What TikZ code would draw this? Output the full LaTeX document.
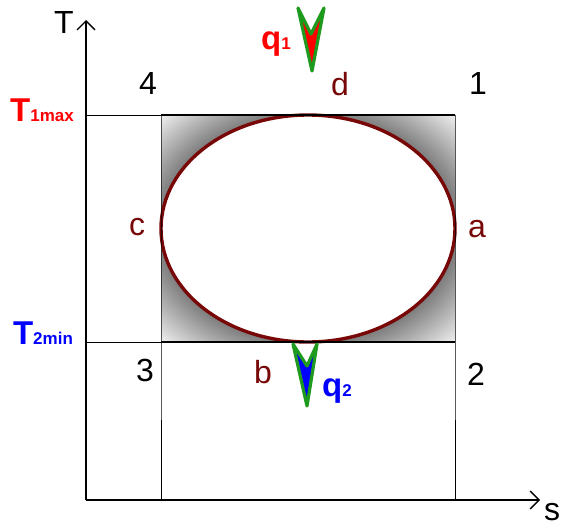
\documentclass[tikz,border=0pt]{standalone}
\usepackage{fontspec}
\setmainfont{Liberation Sans}
\usetikzlibrary{positioning, arrows.meta}
\definecolor{cyclered}{HTML}{780808}
\definecolor{heatgreen}{HTML}{1E9A1E}
\definecolor{hotred}{HTML}{FF0000}
\definecolor{coldblue}{HTML}{0000FF}
\pgfdeclareradialshading{cornerglow}{\pgfpoint{0bp}{0bp}}{color(0bp)=(black!60); color(24bp)=(black!56); color(36bp)=(black!3); color(50bp)=(white)}
\tikzset{
  lbl/.style={font=\fontsize{32}{32}\selectfont, inner sep=0pt},
  statelbl/.style={lbl, text=cyclered},
  limitlbl/.style={font=\fontsize{33}{33}\selectfont\bfseries, inner sep=0pt},
  axis/.style={line width=1.3pt, -{Straight Barb[length=9pt, width=18pt, line width=1.3pt]}},
  thin/.style={line width=0.8pt},
  isoline/.style={line width=2.6pt},
  heatarrow/.style={draw=heatgreen, line width=3.2pt, line join=round}
}
\newcommand{\subtxt}[1]{{\fontsize{17}{17}\selectfont\bfseries #1}}
\begin{document}
\begin{tikzpicture}[x=1pt, y=-1pt]
    \useasboundingbox (0,0) rectangle (561,530);
    % Corners of the cycle
    \coordinate (o) at (86,500);
    \coordinate (p4) at (161,115);
    \coordinate (p1) at (455,115);
    \coordinate (p2) at (455,342);
    \coordinate (p3) at (161,342);
    \coordinate (yend) at (86,20);
    \coordinate (xend) at (540,500);

    % Shaded corners and cycle
    \shade[shading=cornerglow] (p4) rectangle (p2);
    \draw[cyclered, line width=3.4pt, fill=white] (308,228.5) ellipse [x radius=147, y radius=113.5];

    % Guide lines
    \draw[thin] (86,115) -- (p4);
    \draw[thin] (86,342) -- (p3);
    \draw[thin] (p4) -- (p3) -- (161,500);
    \draw[thin] (p1) -- (p2) -- (455,500);
    \draw[isoline] (p4) -- (p1);
    \draw[isoline] (p3) -- (p2);

    % Axes
    \draw[axis] (o) -- (yend);
    \draw[axis] (o) -- (xend);
    \node[lbl] (T) at (64,22) {T};
    \node[lbl] (s) at (552,512) {s};

    % Temperature limits
    \node[limitlbl, text=hotred] (tmax) at (42,110) {T\subtxt{1max}};
    \node[limitlbl, text=coldblue] (tmin) at (43,333) {T\subtxt{2min}};

    % State points
    \node[lbl] (n4) at (148,83) {4};
    \node[lbl] (n1) at (478,83) {1};
    \node[lbl] (n3) at (145,370) {3};
    \node[lbl] (n2) at (476,374) {2};
    \node[statelbl] (d) at (340,84) {d};
    \node[statelbl] (c) at (137,227) {c};
    \node[statelbl] (a) at (477,229) {a};
    \node[statelbl] (b) at (263,372) {b};

    % Heat flows
    \draw[heatarrow, fill=hotred] (298,8) -- (311,34) -- (324,8) -- (312,71) -- cycle;
    \draw[heatarrow, fill=coldblue] (293,344) -- (307,366) -- (317,344) -- (307,406) -- cycle;
    \node[limitlbl, text=hotred] (q1) at (276,44) {q\subtxt{1}};
    \node[limitlbl, text=coldblue] (q2) at (337,391) {q\subtxt{2}};
\end{tikzpicture}
\end{document}
